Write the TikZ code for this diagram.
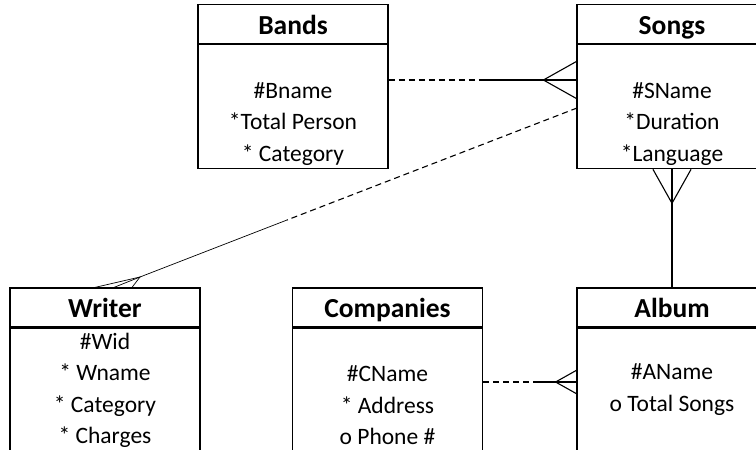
\documentclass[tikz,border=0pt]{standalone}
\usepackage{fontspec}
\setmainfont{Carlito}
\usetikzlibrary{positioning}

\tikzset{
	entityhead/.style={draw, line width=1.2pt, minimum width=190pt, minimum height=39pt, inner sep=0pt,
		text height=22pt, text depth=2pt, font=\fontsize{27.5}{30}\selectfont\bfseries},
	entitybody/.style={draw, line width=1.2pt, minimum width=190pt, inner sep=0pt},
	attrlist/.style={align=center, inner sep=0pt, font=\fontsize{23.5}{31.5}\selectfont},
	relation/.style={line width=1.1pt},
	thinrel/.style={line width=0.7pt},
	dashrel/.style={dash pattern=on 6pt off 4pt},
	crowfoot/.pic={
		\draw[relation] (0,-18.5) -- (-33,0) -- (0,18.5);
	}
}

\begin{document}
\begin{tikzpicture}[x=1pt, y=-1pt]
	\clip (0,0) rectangle (756,450);
	
	% entities, top row
	\node[entityhead] (bandshead) at (293,24) {Bands};
	\node[entitybody, minimum height=124pt, below=0pt of bandshead] (bandsbody) {};
	\node[attrlist] (bandsattr) at ([yshift=-17pt]bandsbody.center) {\#Bname\\*Total Person\\* Category};
	
	\node[entityhead] (songshead) at (672,24) {Songs};
	\node[entitybody, minimum height=124pt, below=0pt of songshead] (songsbody) {};
	\node[attrlist] (songsattr) at ([yshift=-17pt]songsbody.center) {\#SName\\*Duration\\*Language};
	
	% entities, bottom row
	\node[entityhead] (writerhead) at (105,307.5) {Writer};
	\node[entitybody, minimum height=130pt, below=0pt of writerhead] (writerbody) {};
	\node[attrlist] (writerattr) at ([yshift=3pt]writerbody.center) {\#Wid\\* Wname\\* Category\\* Charges};
	
	\node[entityhead] (companieshead) at (387.5,307.5) {Companies};
	\node[entitybody, minimum height=130pt, below=0pt of companieshead] (companiesbody) {};
	\node[attrlist] (companiesattr) at ([yshift=-12pt]companiesbody.center) {\#CName\\* Address\\o Phone \#};
	
	\node[entityhead] (albumhead) at (672,307.5) {Album};
	\node[entitybody, minimum height=130pt, below=0pt of albumhead] (albumbody) {};
	\node[attrlist] (albumattr) at ([yshift=3.5pt]albumbody.center) {\#AName\\o Total Songs};
	
	% Bands -- Songs
	\coordinate (bsbreak) at (481,80);
	\draw[relation, dashrel] (bandsbody.east |- bsbreak) -- (bsbreak);
	\draw[relation] (bsbreak) -- (songsbody.west |- bsbreak);
	\pic at (songsbody.west |- bsbreak) {crowfoot};
	
	% Songs -- Album
	\draw[relation] (songsbody.south) -- (albumhead.north);
	\pic[rotate=90, scale=1.03] at (songsbody.south) {crowfoot};
	
	% Companies -- Album
	\coordinate (cabreak) at (537,382);
	\draw[relation, dashrel] (companiesbody.east |- cabreak) -- (cabreak);
	\draw[relation] (cabreak) -- (albumbody.west |- cabreak);
	\pic[scale=0.63] at (albumbody.west |- cabreak) {crowfoot};
	
	% Songs -- Writer
	\coordinate (wsstart) at (577,108);
	\coordinate (wsbreak) at (287,220);
	\coordinate (wstip) at (140,277);
	\draw[relation, dashrel] (wsstart) -- (wsbreak);
	\draw[thinrel] (wsbreak) -- (wstip);
	\draw[thinrel] ([xshift=-10pt]writerhead.north) -- (wstip) -- ([xshift=27pt]writerhead.north);
	\draw[thinrel] (wstip) -- ([xshift=9pt]writerhead.north);
\end{tikzpicture}
\end{document}
